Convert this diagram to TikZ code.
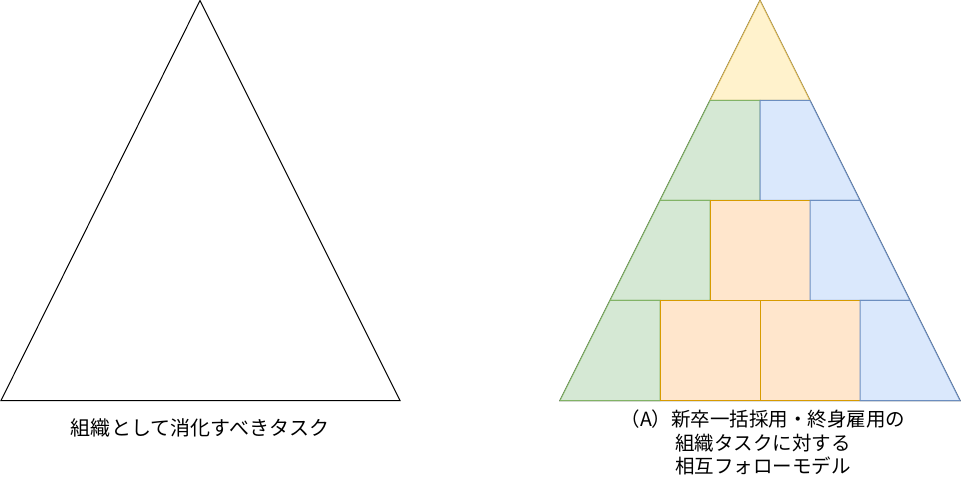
\documentclass[tikz,border=0pt]{standalone}
\usepackage{fontspec}
\newfontfamily\jpfont{Noto Sans CJK JP}
\definecolor{gfill}{HTML}{D5E8D4}\definecolor{gline}{HTML}{82B366}
\definecolor{bfill}{HTML}{DAE8FC}\definecolor{bline}{HTML}{6C8EBF}
\definecolor{ofill}{HTML}{FFE6CC}\definecolor{oline}{HTML}{D79B00}
\definecolor{yfill}{HTML}{FFF2CC}\definecolor{yline}{HTML}{D6B656}
\tikzset{
  outline/.style={draw=black,fill=white,line width=1bp,line join=miter},
  greenpart/.style={draw=gline,fill=gfill,line width=1bp},
  bluepart/.style={draw=bline,fill=bfill,line width=1bp},
  orangepart/.style={draw=oline,fill=ofill,line width=1bp},
  yellowpart/.style={draw=yline,fill=yfill,line width=1bp},
  caption/.style={font=\jpfont\fontsize{19.5bp}{23.5bp}\selectfont,align=center,inner sep=0pt,text=black}
}
\begin{document}
\begin{tikzpicture}[x=1bp,y=-1bp]
\useasboundingbox (0,0) rectangle (961,479);
% left triangle
\draw[outline] (200,0.5) -- (400,400.5) -- (1,400.5) -- cycle;
\node[caption,font=\jpfont\fontsize{20bp}{24bp}\selectfont] (leftcap) at (200,428) {組織として消化すべきタスク};
% right pyramid outline
\draw[outline] (760,0.5) -- (960,400.5) -- (560,400.5) -- cycle;
% top
\draw[yellowpart] (760,0.5) -- (810,100.5) -- (710,100.5) -- cycle;
% row 2
\draw[greenpart] (710,100.5) -- (760,100.5) -- (760,200.5) -- (660,200.5) -- cycle;
\draw[bluepart] (760,100.5) -- (810,100.5) -- (860,200.5) -- (760,200.5) -- cycle;
% row 3
\draw[greenpart] (660,200.5) -- (710,200.5) -- (710,300.5) -- (610,300.5) -- cycle;
\draw[orangepart] (710,200.5) rectangle (810,300.5);
\draw[bluepart] (810,200.5) -- (860,200.5) -- (910,300.5) -- (810,300.5) -- cycle;
% row 4
\draw[greenpart] (610,300.5) -- (660,300.5) -- (660,400.5) -- (560,400.5) -- cycle;
\draw[orangepart] (660,300.5) rectangle (760,400.5);
\draw[orangepart] (760,300.5) rectangle (860,400.5);
\draw[bluepart] (860,300.5) -- (910,300.5) -- (960,400.5) -- (860,400.5) -- cycle;
\node[caption] (rightcap) at (763,442.5) {（A）新卒一括採用・終身雇用の\\組織タスクに対する\\相互フォローモデル};
\end{tikzpicture}
\end{document}
